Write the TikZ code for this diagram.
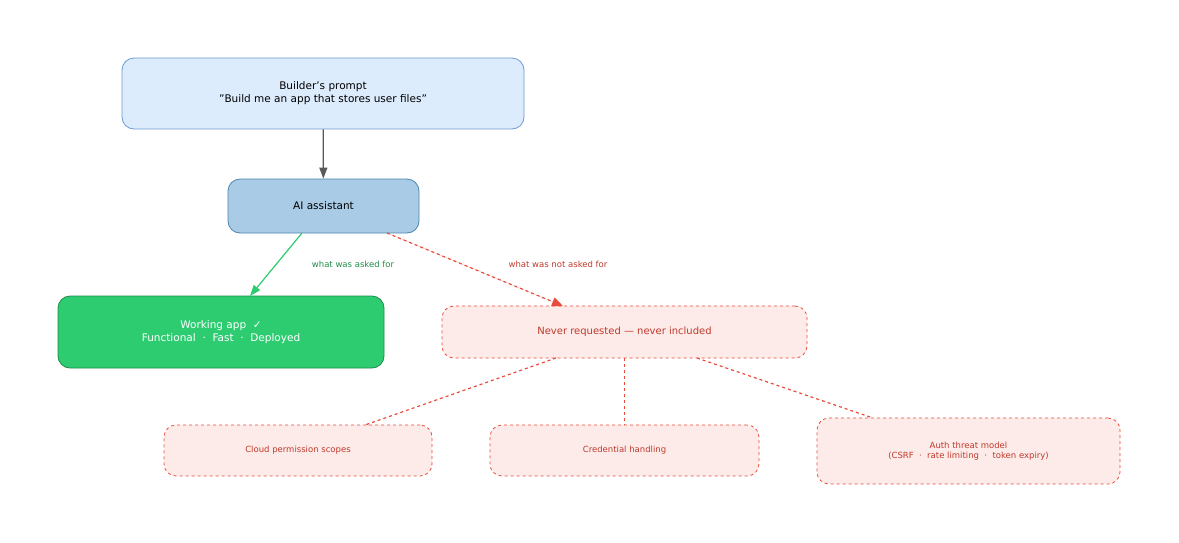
\documentclass[tikz,border=0pt]{standalone}
\usepackage{fontspec}
\setmainfont{DejaVu Sans}
\usetikzlibrary{arrows.meta}
\definecolor{pfill}{HTML}{DCECFC}\definecolor{pdraw}{HTML}{6B9BD1}
\definecolor{afill}{HTML}{A9CBE6}\definecolor{adraw}{HTML}{4A86B0}
\definecolor{gfill}{HTML}{2ECC71}\definecolor{gdraw}{HTML}{1E8C4A}
\definecolor{rfill}{HTML}{FDEBE9}\definecolor{rdraw}{HTML}{E74C3C}\definecolor{rtext}{HTML}{C0392B}
\definecolor{gtext}{HTML}{1E8C4A}
\begin{document}
\begin{tikzpicture}[x=1pt,y=-1pt,
 box/.style={draw,rounded corners=12pt,align=center,inner sep=0pt,line width=0.8pt},
 red/.style={box,fill=rfill,draw=rdraw,dashed,text=rtext},
 lbl/.style={font=\fontsize{8.5}{10}\selectfont}]
\useasboundingbox (0,0) rectangle (1179,542);
\node[box,fill=pfill,draw=pdraw,minimum width=402pt,minimum height=71pt,font=\fontsize{10.5}{13}\selectfont] (p) at (323,93.5) {Builder's prompt\\"Build me an app that stores user files"};
\node[box,fill=afill,draw=adraw,minimum width=191pt,minimum height=54pt,font=\fontsize{10.5}{13}\selectfont] (ai) at (323.5,206) {AI assistant};
\node[box,fill=gfill,draw=gdraw,text=white,minimum width=326pt,minimum height=72pt,font=\fontsize{10.5}{13}\selectfont] (w) at (221,332) {Working app \ ✓\\Functional \ · \ Fast \ · \ Deployed};
\node[red,minimum width=365pt,minimum height=52pt,font=\fontsize{10}{12}\selectfont] (n) at (624.5,332) {Never requested — never included};
\node[red,minimum width=268pt,minimum height=51pt,font=\fontsize{8.5}{10}\selectfont] (c) at (298,450.5) {Cloud permission scopes};
\node[red,minimum width=269pt,minimum height=51pt,font=\fontsize{8.5}{10}\selectfont] (cr) at (624.5,450.5) {Credential handling};
\node[red,minimum width=303pt,minimum height=66pt,font=\fontsize{8.5}{10.5}\selectfont] (au) at (968.5,451) {Auth threat model\\(CSRF \ · \ rate limiting \ · \ token expiry)};
\draw[-{Triangle[length=11pt,width=8pt]},draw=black!65,line width=1.2pt] (p) -- (ai);
\draw[-{Triangle[length=11pt,width=8pt]},draw=gfill,fill=gfill,line width=1.2pt] (302,233) coordinate (a1) -- (250,296) coordinate (a2);
\draw[dashed,-{Triangle[length=11pt,width=9pt]},draw=rdraw,fill=rdraw,line width=1.2pt] (387,233) coordinate (b1) -- (563,306) coordinate (b2);
\node[lbl,text=gtext] at (353,264) {what was asked for};
\node[lbl,text=rtext] at (558,264) {what was not asked for};
\draw[dashed,draw=rdraw,line width=1.2pt] (556,358) coordinate (n1) -- (365,425) coordinate (c1);
\draw[dashed,draw=rdraw,line width=1.2pt] (n.south) -- (cr.north);
\draw[dashed,draw=rdraw,line width=1.2pt] (697,358) coordinate (n2) -- (873,418) coordinate (au1);
\end{tikzpicture}
\end{document}
